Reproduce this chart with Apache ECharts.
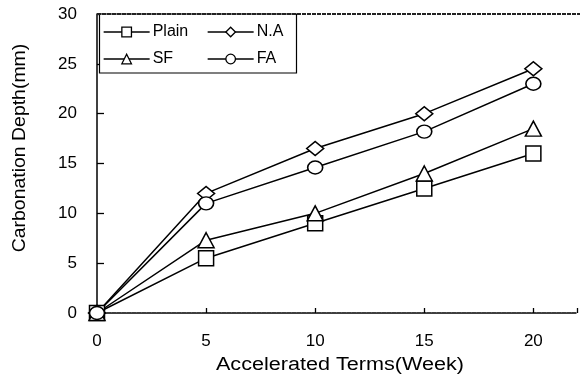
<!DOCTYPE html>
<html>
<head>
<meta charset="utf-8">
<script src="https://cdn.jsdelivr.net/npm/echarts@6/dist/echarts.min.js"></script>
<style>
  html, body { margin: 0; padding: 0; background: #fff; }
  #chart { width: 580px; height: 387px; }
</style>
</head>
<body>
<div id="chart"></div>
<script>
// Carbonation depth versus accelerated exposure time
const weeks = [0, 5, 10, 15, 20];
const plain = [0, 5.5, 9.0, 12.5, 16.0];
const sf    = [0, 7.3, 10.0, 14.0, 18.5];
const na    = [0, 12.0, 16.5, 20.0, 24.5];
const fa    = [0, 11.0, 14.6, 18.2, 23.0];

const xTicks = [0, 5, 10, 15, 20];
const yTicks = [0, 5, 10, 15, 20, 25, 30];

const seriesDefs = [
  { name: 'Plain', data: plain, symbol: 'rect', size: [15, 15] },
  { name: 'SF',    data: sf,    symbol: 'triangle', size: [16, 15] },
  { name: 'N.A',   data: na,    symbol: 'diamond', size: [17, 14] },
  { name: 'FA',    data: fa,    symbol: 'circle', size: [15, 13] }
];

const FONT = 'Liberation Sans, Arial, sans-serif';
const chart = echarts.init(document.getElementById('chart'), null, { renderer: 'canvas' });

const series = seriesDefs.map(d => ({
  name: d.name,
  type: 'line',
  data: weeks.map((w, i) => [w, d.data[i]]),
  symbol: d.symbol,
  symbolSize: d.size,
  showAllSymbol: true,
  lineStyle: { color: '#000', width: 1.5 },
  itemStyle: { color: '#fff', borderColor: '#000', borderWidth: 1.5 },
  emphasis: { disabled: true },
  animation: false,
  z: 3
}));

// One legend block per entry, laid out as a 2x2 grid
const legendPos = [
  { name: 'Plain', left: 103, top: 24 },
  { name: 'N.A',   left: 207, top: 24 },
  { name: 'SF',    left: 103, top: 51 },
  { name: 'FA',    left: 207, top: 51 }
];
const legends = legendPos.map(p => ({
  data: [p.name],
  left: p.left,
  top: p.top,
  padding: 0,
  itemWidth: 46,
  itemHeight: 12,
  itemGap: 0,
  selectedMode: false,
  textStyle: { fontFamily: FONT, fontSize: 16, color: '#000', padding: [0, 0, 0, -2] },
  itemStyle: { color: '#fff', borderColor: '#000', borderWidth: 1.3 },
  lineStyle: { color: '#000', width: 1.3 }
}));

chart.setOption({
  backgroundColor: '#fff',
  animation: false,
  grid: { left: 97, top: 14, right: 0, bottom: 74, containLabel: false },
  legend: legends,
  xAxis: {
    type: 'value',
    min: 0,
    max: 22,
    interval: 5,
    axisLine: { show: true, lineStyle: { color: '#000', width: 1.5, type: [4, 1] } },
    axisTick: { show: true, inside: true, length: 5, lineStyle: { color: '#000', width: 1.3 } },
    splitLine: { show: false },
    axisLabel: {
      margin: 20, fontFamily: FONT, fontSize: 17, color: '#000',
      formatter: v => (xTicks.includes(v) ? String(v) : '')
    }
  },
  yAxis: {
    type: 'value',
    min: 0,
    max: 30,
    interval: 5,
    axisLine: { show: true, onZero: false, lineStyle: { color: '#000', width: 1.5 } },
    axisTick: { show: true, inside: true, length: 7, lineStyle: { color: '#000', width: 1.3 } },
    splitLine: { show: false },
    axisLabel: {
      margin: 20, fontFamily: FONT, fontSize: 17, color: '#000',
      formatter: v => (yTicks.includes(v) ? String(v) : '')
    }
  },
  graphic: [
    // top border of the plot
    { type: 'line', shape: { x1: 97, y1: 14, x2: 580, y2: 14 }, z: 5,
      style: { stroke: '#222', lineWidth: 2, lineDash: [4, 1] } },
    // legend frame
    { type: 'rect', shape: { x: 99.5, y: 14, width: 197, height: 59 }, z: 4,
      style: { fill: '#fff', stroke: '#000', lineWidth: 1.2 } },
    // axis titles, stretched along the reading direction
    { type: 'text', x: 20, y: 148, rotation: Math.PI / 2, scaleX: 1.08, z: 5,
      style: { text: 'Carbonation Depth(mm)', font: '18px ' + FONT, fill: '#000',
               textAlign: 'center', textVerticalAlign: 'middle' } },
    { type: 'text', x: 340, y: 365, scaleX: 1.2, z: 5,
      style: { text: 'Accelerated Terms(Week)', font: '18px ' + FONT, fill: '#000',
               textAlign: 'center', textVerticalAlign: 'middle' } }
  ],
  series: series
});
</script>
</body>
</html>
